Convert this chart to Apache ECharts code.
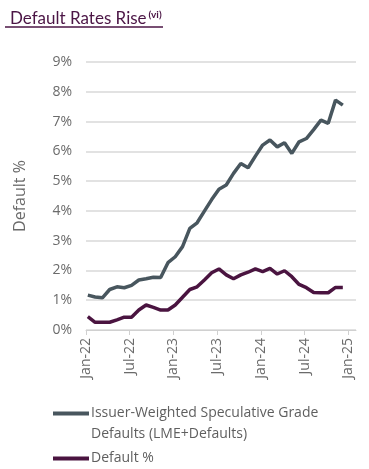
<!DOCTYPE html>
<html><head><meta charset="utf-8">
<script src="https://cdn.jsdelivr.net/npm/echarts@6/dist/echarts.min.js"></script>
<style>html,body{margin:0;padding:0;background:#fff}#c{width:369px;height:469px}</style>
</head><body><div id="c"></div>
<script>
var months = ["Jan-22","Feb-22","Mar-22","Apr-22","May-22","Jun-22","Jul-22","Aug-22","Sep-22","Oct-22","Nov-22","Dec-22",
"Jan-23","Feb-23","Mar-23","Apr-23","May-23","Jun-23","Jul-23","Aug-23","Sep-23","Oct-23","Nov-23","Dec-23",
"Jan-24","Feb-24","Mar-24","Apr-24","May-24","Jun-24","Jul-24","Aug-24","Sep-24","Oct-24","Nov-24","Dec-24"];
var issuerWeighted = [1.17,1.11,1.08,1.36,1.45,1.42,1.50,1.68,1.72,1.77,1.76,2.26,
2.46,2.80,3.41,3.60,3.99,4.38,4.73,4.87,5.26,5.59,5.45,5.84,
6.21,6.38,6.15,6.29,5.93,6.32,6.43,6.73,7.05,6.94,7.72,7.55];
var defaultPct = [0.45,0.26,0.26,0.26,0.34,0.43,0.43,0.67,0.84,0.76,0.67,0.67,
0.84,1.10,1.36,1.45,1.68,1.92,2.05,1.85,1.72,1.85,1.94,2.05,
1.96,2.07,1.88,1.99,1.79,1.53,1.42,1.26,1.25,1.25,1.43,1.43];
var tickLabels = ["Jan-22","Jul-22","Jan-23","Jul-23","Jan-24","Jul-24","Jan-25"];
var seriesNames = ["Issuer-Weighted Speculative Grade Defaults (LME+Defaults)","Default %"];
var legendLabels = ["\nIssuer-Weighted Speculative Grade\nDefaults (LME+Defaults)","Default %"];
var colors = ["#48565e","#4a1440"];

var chart = echarts.init(document.getElementById('c'), null, {renderer:'canvas'});
function pts(arr){ return arr.map(function(v,i){ return [i + 0.25, v]; }); }
var titleFont = 'Lato, "Open Sans", sans-serif';
var font = '"Open Sans", Lato, sans-serif';
var legendBase = {
  orient:'vertical', left:53, padding:0, itemGap:0,
  itemWidth:36, itemHeight:4, icon:'rect', selectedMode:false,
  textStyle:{color:'#5f5f5f', fontFamily:font, fontSize:14, lineHeight:21, padding:[0,0,0,-3]},
  formatter:function(n){ return legendLabels[seriesNames.indexOf(n)]; }
};
chart.setOption({
  animation:false,
  title:{
    text:'Default Rates Rise{sup|(vi)}',
    left:5, top:5,
    textStyle:{fontFamily:titleFont, fontSize:17, fontWeight:'normal', color:'#4b1545',
      rich:{sup:{fontSize:10, fontWeight:'bold', color:'#4b1545', verticalAlign:'top', padding:[0,0,8,2]}}}
  },
  graphic:[{type:'line', shape:{x1:5,y1:27,x2:163,y2:27}, style:{stroke:'#4b1545', lineWidth:1.3}}],
  grid:{left:86, right:13, top:62, bottom:139},
  xAxis:{
    type:'value', min:0, max:37.06, interval:6,
    axisLine:{show:true, lineStyle:{color:'#d0d0d0', width:1}},
    axisTick:{show:true, length:5, lineStyle:{color:'#d0d0d0'}},
    splitLine:{show:false},
    axisLabel:{rotate:90, color:'#6b6b6b', fontFamily:font, fontSize:14, margin:8,
      showMaxLabel:false,
      formatter:function(v){ var k = Math.round(v/6); return tickLabels[k] || ''; }}
  },
  yAxis:{
    type:'value', min:0, max:9, interval:1,
    name:'Default %', nameLocation:'middle', nameGap:58, nameRotate:90,
    nameTextStyle:{color:'#6b6b6b', fontFamily:font, fontSize:16},
    axisLine:{show:false}, axisTick:{show:false},
    splitLine:{lineStyle:{color:'#d9d9d9', width:1.5}},
    axisLabel:{color:'#6b6b6b', fontFamily:font, fontSize:14, margin:14,
      formatter:function(v){ return v + '%'; }}
  },
  legend:[
    Object.assign({}, legendBase, {top:382, data:[seriesNames[0]]}),
    Object.assign({}, legendBase, {top:448, data:[seriesNames[1]]})
  ],
  series:[
    {name:seriesNames[0], type:'line', data:pts(issuerWeighted), showSymbol:false,
     lineStyle:{color:colors[0], width:3.5}, itemStyle:{color:colors[0]}},
    {name:seriesNames[1], type:'line', data:pts(defaultPct), showSymbol:false,
     lineStyle:{color:colors[1], width:3.5}, itemStyle:{color:colors[1]}}
  ]
});
</script></body></html>
